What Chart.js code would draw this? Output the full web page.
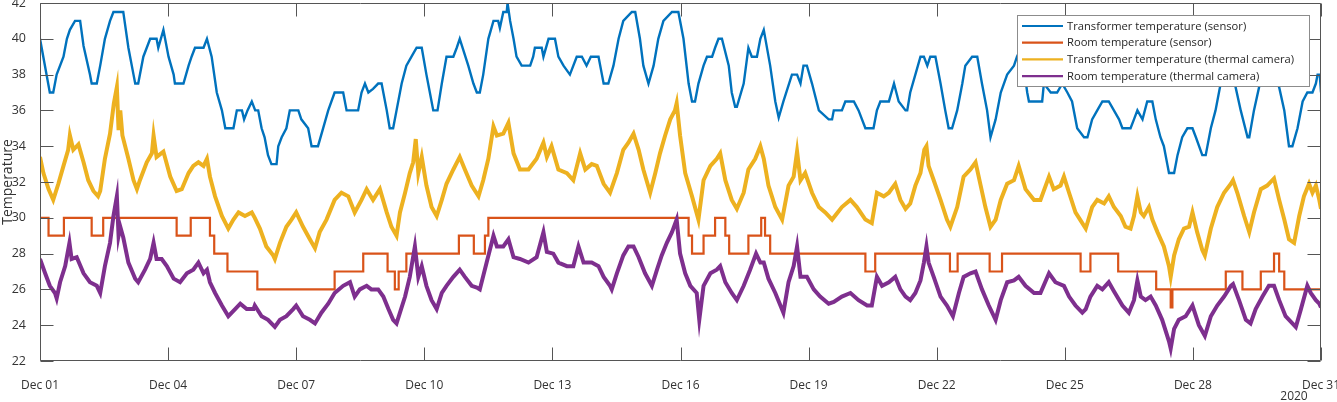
<!DOCTYPE html>
<html>
<head>
<meta charset="utf-8">
<script src="https://cdn.jsdelivr.net/npm/chart.js@4.4.1/dist/chart.umd.min.js"></script>
<style>
html,body{margin:0;padding:0;background:#ffffff;}
#wrap{width:1337px;height:402px;position:relative;}
</style>
</head>
<body>
<div id="wrap"><canvas id="c" width="1337" height="402"></canvas></div>
<script>
// ---- Data (x = days since Dec 01 2020 00:00, y = temperature) ----
const seriesLabels = [
  'Transformer temperature (sensor)',
  'Room temperature (sensor)',
  'Transformer temperature (thermal camera)',
  'Room temperature (thermal camera)'
];
const xTickLabels = ['Dec 01','Dec 04','Dec 07','Dec 10','Dec 13','Dec 16','Dec 19','Dec 22','Dec 25','Dec 28','Dec 31'];
const yearLabel = '2020';
const yAxisTitle = 'Temperature';

const transformerSensor = [
  [0,40],[0.23,37],[0.31,37],[0.39,38],[0.55,39],[0.63,40],[0.70,40.5],[0.82,41],[0.94,41],[1.02,39.6],[1.17,38],[1.21,37.5],[1.33,37.5],
  [1.41,38.5],[1.52,40],[1.64,41],[1.72,41.5],[1.95,41.5],[2.07,39.5],[2.19,38],[2.23,37.5],[2.30,37.5],[2.42,39],[2.5,39.5],[2.58,40],
  [2.73,40],[2.77,39.5],[2.89,40.5],[3.01,39],[3.13,38],[3.16,37.5],[3.36,37.5],[3.48,38.5],[3.55,39],[3.63,39.5],[3.83,39.5],[3.91,40],
  [4.02,39],[4.14,37],[4.26,36],[4.34,35],[4.53,35],[4.61,36],[4.73,36],[4.78,35.5],[4.86,36],[4.96,36.5],[5.04,36],[5.11,36],
  [5.19,35],[5.26,34.5],[5.34,33.5],[5.42,33],[5.54,33],[5.58,34],[5.66,34.5],[5.77,35],[5.85,36],[6.05,36],[6.12,35.5],[6.28,35],
  [6.36,34],[6.51,34],[6.63,35],[6.75,36],[6.9,37],[7.1,37],[7.18,36],[7.45,36],[7.53,37],[7.61,37.5],[7.69,37],[7.8,37.2],[7.92,37.5],
  [8.0,37.5],[8.12,36],[8.19,35],[8.27,35],[8.35,36],[8.47,37.5],[8.58,38.5],[8.7,39],[8.82,39.5],[8.94,39.5],[9.05,38],[9.13,37],
  [9.21,36],[9.31,36],[9.41,37.5],[9.52,39],[9.68,39],[9.76,39.5],[9.83,40],[10.03,38.5],[10.15,37.5],[10.23,37],[10.3,37],[10.38,38],
  [10.5,40],[10.62,41],[10.73,41],[10.77,40.6],[10.85,41.5],[10.93,41.5],[10.95,42],[11.01,41],[11.09,40],[11.16,39],[11.28,38.5],
  [11.48,38.5],[11.55,39],[11.59,39.5],[11.75,39.5],[11.79,39],[11.91,40],[12.06,40],[12.14,39],[12.26,38.5],[12.41,38],[12.57,39],
  [12.69,39],[12.8,38.5],[12.9,39],[13.08,39],[13.16,38],[13.2,37.5],[13.31,37.5],[13.43,38.5],[13.55,40],[13.66,41],[13.86,41.5],
  [13.94,41.5],[14.05,40],[14.13,38.5],[14.25,37.5],[14.37,38.5],[14.48,40],[14.6,41],[14.8,41.5],[14.95,41.5],[15.07,40],[15.19,37.5],
  [15.27,36.5],[15.34,36.5],[15.42,37.5],[15.54,38.5],[15.62,39],[15.74,39],[15.81,39.5],[15.89,40],[15.97,40],[16.13,38.5],[16.2,37],
  [16.28,36.2],[16.32,36.2],[16.48,37.5],[16.59,39.5],[16.67,39],[16.79,39],[16.87,40],[16.95,40.5],[17.1,38.5],[17.22,36.5],[17.3,35.6],
  [17.41,36.5],[17.61,38],[17.73,38],[17.81,37.5],[17.88,38.5],[17.96,38.5],[18.08,37.5],[18.24,36],[18.47,35.5],[18.55,35.5],[18.59,36],
  [18.78,36],[18.86,36.5],[19.06,36.5],[19.17,36],[19.33,35],[19.52,35],[19.6,36],[19.68,36.5],[19.88,36.5],[20.0,37.5],[20.11,36.5],
  [20.27,36],[20.31,36],[20.38,37],[20.5,38],[20.62,39],[20.7,39],[20.78,38.5],[20.85,39],[20.97,39],[21.09,37.5],[21.2,36],[21.28,35],
  [21.36,35],[21.48,36],[21.6,37.5],[21.67,38.5],[21.83,39],[21.95,39],[22.06,37.5],[22.18,36],[22.26,34.5],[22.38,35.5],[22.5,37],
  [22.65,38],[22.81,38.5],[22.88,39],[22.98,39.5],[23.12,37],[23.16,36.5],[23.47,36.5],[23.51,37.5],[23.67,37],[23.82,37],[23.94,37.5],
  [24.06,37],[24.17,36.5],[24.29,35],[24.45,34.5],[24.53,34.5],[24.64,35.5],[24.76,36],[24.88,36.5],[25.03,36.5],[25.15,36],[25.27,35.5],
  [25.35,35],[25.54,35],[25.62,35.5],[25.7,36],[25.82,35.5],[25.93,36.5],[26.05,36.5],[26.13,35.5],[26.24,34.5],[26.32,34],[26.4,33],
  [26.44,32.5],[26.56,32.5],[26.64,33.5],[26.75,34.5],[26.87,35],[26.99,35],[27.07,34.5],[27.22,33.5],[27.3,33.5],[27.42,35],[27.53,36],
  [27.65,37.5],[27.8,38.5],[28.0,37.3],[28.12,36],[28.28,34.5],[28.32,34.5],[28.43,36],[28.55,37.3],[28.75,38.5],[29.02,37.3],[29.14,36],
  [29.25,34],[29.33,34],[29.45,35],[29.57,36.5],[29.68,37],[29.8,37],[29.88,37.5],[29.92,38],[29.97,38],[30.0,37]
];

const roomSensor = [
  [0,30],[0.2,29],[0.56,30],[1.21,29],[1.48,30],[3.2,29],[3.53,30],[3.98,29],[4.08,28],[4.39,27],[5.09,26],[6.9,27],[7.57,28],
  [8.14,27],[8.31,26],[8.4,27],[8.58,28],[9.81,29],[10.16,28],[10.42,29],[10.5,30],[15.19,29],[15.27,28],[15.54,29],[15.81,30],
  [16.05,29],[16.14,28],[16.59,29],[16.89,30],[16.98,29],[17.1,28],[19.33,27],[19.56,28],[21.31,27],[21.49,28],[22.24,27],[22.53,28],
  [24.37,27],[24.6,28],[25.25,27],[26.14,26],[26.48,25],[26.52,26],[27.77,27],[28.16,26],[28.59,27],[28.9,28],[29.02,27],[29.14,26],[30,26]
];

const transformerCamera = [
  [0,33.4],[0.08,32.5],[0.2,31.6],[0.31,31.0],[0.43,31.9],[0.55,32.9],[0.66,33.8],[0.70,34.6],[0.78,33.8],[0.9,34.1],[1.02,33.1],
  [1.13,32.1],[1.25,31.5],[1.36,31.2],[1.41,31.5],[1.52,33.3],[1.64,34.7],[1.73,36.4],[1.8,37.3],[1.84,34.9],[1.88,36.0],[1.93,34.6],
  [2.07,33.3],[2.19,32.1],[2.27,31.6],[2.34,32.1],[2.5,33.1],[2.62,33.6],[2.66,34.6],[2.73,33.4],[2.89,33.7],[3.05,32.3],[3.2,31.5],
  [3.32,31.6],[3.48,32.5],[3.59,32.9],[3.71,33.1],[3.83,32.9],[3.91,33.3],[3.98,32.3],[4.1,31.2],[4.26,30.1],[4.41,29.4],[4.53,29.9],
  [4.65,30.3],[4.8,30.1],[4.96,30.3],[5.03,30.0],[5.15,29.4],[5.3,28.4],[5.46,27.9],[5.5,27.7],[5.62,28.6],[5.77,29.5],[5.89,29.9],
  [6.0,30.3],[6.16,29.5],[6.32,28.8],[6.44,28.3],[6.55,29.2],[6.71,29.9],[6.9,31.0],[7.06,31.4],[7.22,31.2],[7.37,30.3],[7.53,31.0],
  [7.65,31.6],[7.8,31.0],[7.96,31.6],[8.12,30.3],[8.23,29.5],[8.35,29.0],[8.43,30.3],[8.55,31.4],[8.66,32.5],[8.74,33.1],[8.8,34.4],
  [8.86,32.5],[8.94,33.4],[9.05,31.8],[9.17,30.6],[9.29,30.1],[9.41,31.0],[9.52,31.9],[9.68,32.7],[9.83,33.4],[9.95,32.7],[10.11,31.8],
  [10.27,31.2],[10.38,32.1],[10.5,33.3],[10.62,35.1],[10.7,34.6],[10.85,34.7],[10.97,35.3],[11.09,33.6],[11.24,32.7],[11.44,32.7],
  [11.63,33.3],[11.79,34.2],[11.87,33.4],[11.98,34.0],[12.14,32.7],[12.34,32.5],[12.49,32.1],[12.65,33.6],[12.77,32.7],[12.92,33.0],
  [13.04,32.9],[13.2,31.9],[13.35,31.4],[13.51,32.5],[13.66,33.8],[13.78,34.2],[13.9,34.7],[14.02,33.8],[14.13,32.7],[14.29,31.4],
  [14.41,32.5],[14.52,33.6],[14.64,34.6],[14.76,35.5],[14.87,36.0],[14.91,36.4],[14.99,34.6],[15.11,32.5],[15.27,31.2],[15.42,29.9],
  [15.54,32.1],[15.7,32.9],[15.85,33.3],[15.93,33.6],[16.05,32.1],[16.2,31.0],[16.32,30.5],[16.48,31.4],[16.59,32.7],[16.75,33.3],
  [16.87,34.0],[16.95,33.3],[17.06,31.8],[17.22,30.6],[17.38,29.9],[17.53,31.8],[17.65,32.3],[17.73,33.7],[17.81,32.1],[17.92,32.5],
  [18.08,31.4],[18.24,30.6],[18.39,30.3],[18.55,29.9],[18.78,30.6],[18.98,31.0],[19.13,30.6],[19.33,29.9],[19.48,29.7],[19.6,31.4],
  [19.76,31.2],[19.88,31.4],[20.03,31.9],[20.15,31.0],[20.27,30.5],[20.38,30.8],[20.5,31.8],[20.62,32.5],[20.71,33.8],[20.76,34.0],
  [20.81,32.9],[20.93,32.1],[21.09,31.0],[21.24,29.9],[21.32,29.5],[21.48,30.6],[21.63,32.3],[21.79,32.7],[21.91,33.1],[22.03,31.8],
  [22.14,30.6],[22.26,29.5],[22.38,29.9],[22.5,31.0],[22.65,31.9],[22.81,32.1],[22.92,32.9],[23.08,31.6],[23.28,31.0],[23.43,31.0],
  [23.63,32.3],[23.74,31.6],[23.9,31.8],[23.98,32.3],[24.1,31.4],[24.25,30.3],[24.41,29.7],[24.49,29.4],[24.64,30.6],[24.76,31.0],
  [24.92,30.8],[25.03,31.2],[25.15,30.6],[25.31,30.1],[25.42,29.5],[25.54,29.4],[25.62,30.1],[25.7,31.2],[25.78,30.3],[25.85,30.1],
  [25.97,30.6],[26.05,29.9],[26.17,29.2],[26.32,28.4],[26.44,27.3],[26.48,26.7],[26.56,27.9],[26.67,28.8],[26.79,29.4],[26.91,29.5],
  [26.99,30.3],[27.1,29.2],[27.22,28.2],[27.28,27.9],[27.42,29.4],[27.57,30.6],[27.73,31.4],[27.89,31.9],[27.94,32.1],[28.04,31.4],
  [28.2,30.1],[28.32,29.2],[28.43,30.3],[28.59,31.6],[28.74,31.8],[28.9,32.2],[29.02,31.0],[29.14,29.9],[29.25,28.8],[29.37,28.6],
  [29.49,30.1],[29.6,31.2],[29.72,31.9],[29.8,31.4],[29.88,31.8],[29.96,31.0],[30.0,30.5]
];

const roomCamera = [
  [0,27.7],[0.12,26.9],[0.23,26.2],[0.35,25.8],[0.39,25.5],[0.47,26.4],[0.59,27.3],[0.69,28.6],[0.74,27.7],[0.86,27.8],[1.02,26.9],
  [1.17,26.4],[1.33,26.2],[1.41,25.8],[1.52,27.3],[1.64,28.6],[1.72,30.1],[1.8,31.2],[1.84,29.0],[1.88,29.5],[1.95,28.9],[2.07,27.5],
  [2.23,26.6],[2.3,26.4],[2.46,27.1],[2.58,27.7],[2.66,28.6],[2.73,27.7],[2.85,27.7],[2.97,27.3],[3.13,26.6],[3.28,26.4],[3.44,26.9],
  [3.59,27.1],[3.71,27.5],[3.83,26.9],[3.91,27.1],[3.98,26.4],[4.1,25.8],[4.26,25.1],[4.41,24.5],[4.57,24.9],[4.69,25.2],[4.84,24.9],
  [5.0,24.9],[5.03,25.1],[5.19,24.5],[5.34,24.3],[5.5,23.9],[5.62,24.3],[5.77,24.5],[5.93,24.9],[6.0,25.1],[6.16,24.5],[6.32,24.3],
  [6.44,24.1],[6.59,24.7],[6.75,25.2],[6.9,25.8],[7.1,26.2],[7.26,26.4],[7.37,25.6],[7.49,26.0],[7.65,26.2],[7.76,26.0],[7.92,26.0],
  [8.04,25.6],[8.16,24.9],[8.27,24.3],[8.35,24.1],[8.43,24.7],[8.55,25.6],[8.66,26.7],[8.78,28.4],[8.86,26.7],[8.94,27.3],[9.05,26.2],
  [9.17,25.4],[9.29,24.9],[9.41,25.8],[9.52,26.2],[9.68,26.7],[9.83,27.1],[9.95,26.7],[10.11,26.2],[10.23,26.1],[10.3,26.0],[10.46,27.5],
  [10.62,29.0],[10.7,28.4],[10.85,28.4],[10.97,28.8],[11.09,27.8],[11.24,27.7],[11.44,27.5],[11.63,27.8],[11.79,29.2],[11.87,28.1],
  [12.02,28.0],[12.14,27.5],[12.34,27.3],[12.49,27.3],[12.61,28.4],[12.73,27.5],[12.92,27.5],[13.08,27.3],[13.2,26.7],[13.35,26.2],
  [13.39,26.0],[13.51,26.9],[13.66,27.9],[13.78,28.4],[13.9,28.4],[14.02,27.8],[14.17,26.9],[14.33,26.2],[14.45,27.1],[14.56,27.9],
  [14.68,28.6],[14.8,29.2],[14.91,29.9],[14.99,28.0],[15.11,26.9],[15.23,26.2],[15.38,25.8],[15.44,24.3],[15.54,26.2],[15.7,26.9],
  [15.85,27.1],[15.93,27.3],[16.05,26.4],[16.2,25.8],[16.32,25.4],[16.48,26.2],[16.63,27.1],[16.77,28.0],[16.87,27.5],[16.95,27.5],
  [17.06,26.6],[17.22,25.8],[17.41,24.7],[17.53,26.4],[17.65,27.3],[17.73,28.4],[17.81,26.7],[17.96,26.7],[18.12,26.0],[18.27,25.6],
  [18.47,25.2],[18.59,25.3],[18.78,25.6],[18.98,25.8],[19.17,25.4],[19.37,25.1],[19.48,25.1],[19.6,26.7],[19.72,26.2],[19.88,26.4],
  [20.03,26.7],[20.15,26.0],[20.27,25.6],[20.38,25.4],[20.5,25.8],[20.62,26.5],[20.7,27.5],[20.76,28.4],[20.81,27.5],[20.93,26.7],
  [21.09,25.6],[21.24,25.1],[21.38,24.5],[21.52,25.8],[21.63,26.7],[21.79,26.9],[21.91,27.0],[22.06,26.0],[22.22,25.1],[22.38,24.3],
  [22.5,25.4],[22.65,26.4],[22.81,26.5],[22.92,26.7],[23.08,26.2],[23.28,25.8],[23.43,25.8],[23.63,26.9],[23.78,26.4],[23.98,26.2],
  [24.1,25.6],[24.25,25.1],[24.41,24.7],[24.49,24.9],[24.6,25.6],[24.76,26.2],[24.88,26.0],[25.03,26.4],[25.15,25.9],[25.35,25.1],
  [25.5,24.7],[25.62,25.4],[25.7,26.5],[25.78,25.6],[25.89,25.4],[26.01,25.6],[26.13,25.1],[26.28,24.3],[26.44,23.1],[26.48,22.7],
  [26.56,23.8],[26.67,24.3],[26.83,24.5],[26.99,25.1],[27.14,24.0],[27.28,23.4],[27.42,24.5],[27.57,25.1],[27.73,25.6],[27.89,26.2],
  [27.94,26.3],[28.08,25.4],[28.24,24.3],[28.35,24.1],[28.47,24.9],[28.63,25.6],[28.78,26.2],[28.9,26.2],[29.02,25.4],[29.17,24.5],
  [29.33,24.1],[29.41,23.9],[29.53,24.9],[29.68,26.2],[29.76,25.8],[29.88,25.4],[29.96,25.2],[30.0,25.0]
];

// ---- Styling ----
const FONT = "'Open Sans', 'Noto Sans', sans-serif";
const seriesColors = ['#0072BD', '#D95319', '#EDB120', '#7E2F8E'];
const axisColor = '#555555';
const textColor = '#333333';

const toPoints = arr => arr.map(p => ({x: p[0], y: p[1]}));

// Inward ticks on all four sides, box, year label, legend
const boxTicksPlugin = {
  id: 'boxTicks',
  afterDraw(chart) {
    const ctx = chart.ctx;
    const ca = chart.chartArea;
    const xs = chart.scales.x, ys = chart.scales.y;
    const len = 13;
    ctx.save();
    ctx.strokeStyle = axisColor;
    ctx.lineWidth = 1;
    ctx.beginPath();
    const T = Math.round(ca.top) + 0.5, B = Math.round(ca.bottom) - 0.5;
    const L = Math.round(ca.left) + 0.5, R = Math.round(ca.right) - 0.5;
    ctx.moveTo(L, T); ctx.lineTo(R, T); ctx.lineTo(R, B); ctx.lineTo(L, B); ctx.closePath();
    for (let i = 0; i < xTickLabels.length; i++) {
      const px = Math.round(xs.getPixelForValue(i * 3)) + 0.5;
      ctx.moveTo(px, B); ctx.lineTo(px, B - len);
      ctx.moveTo(px, T); ctx.lineTo(px, T + len);
    }
    for (let v = ys.min; v <= ys.max; v += 2) {
      const py = Math.round(ys.getPixelForValue(v)) + 0.5;
      ctx.moveTo(L, py); ctx.lineTo(L + len, py);
      ctx.moveTo(R, py); ctx.lineTo(R - len, py);
    }
    ctx.stroke();

    // year label under last date tick
    ctx.fillStyle = textColor;
    ctx.font = '12px ' + FONT;
    ctx.textAlign = 'center';
    ctx.textBaseline = 'alphabetic';
    ctx.fillText(yearLabel, ca.right - 27, 400);

    // legend box (inside plot, top-right)
    const right = Math.round(ca.right) - 11, width = 293, height = 72;
    const left = right - width, top = Math.round(ca.top) + 12;
    ctx.fillStyle = '#ffffff';
    ctx.fillRect(left, top, width, height);
    ctx.strokeStyle = '#8c8c8c';
    ctx.lineWidth = 1;
    ctx.strokeRect(left + 0.5, top + 0.5, width - 1, height - 1);
    ctx.font = '11.2px ' + FONT;
    ctx.textAlign = 'left';
    ctx.textBaseline = 'middle';
    chart.data.datasets.forEach((ds, i) => {
      const y = top + 11 + i * 16.7;
      ctx.strokeStyle = ds.borderColor;
      ctx.lineWidth = 2.2;
      ctx.beginPath();
      ctx.moveTo(left + 5, y);
      ctx.lineTo(left + 46, y);
      ctx.stroke();
      ctx.fillStyle = '#262626';
      ctx.fillText(ds.label, left + 50, y + 0.5);
    });
    ctx.restore();
  }
};

const datasets = [
  {label: seriesLabels[0], data: toPoints(transformerSensor), borderColor: seriesColors[0], borderWidth: 2.4, order: 3},
  {label: seriesLabels[1], data: toPoints(roomSensor), borderColor: seriesColors[1], borderWidth: 2.2, stepped: 'before', order: 2},
  {label: seriesLabels[2], data: toPoints(transformerCamera), borderColor: seriesColors[2], borderWidth: 4, order: 1},
  {label: seriesLabels[3], data: toPoints(roomCamera), borderColor: seriesColors[3], borderWidth: 4, order: 0}
].map(d => Object.assign({pointRadius: 0, pointHoverRadius: 0, tension: 0, fill: false, backgroundColor: d.borderColor, borderJoinStyle: 'miter'}, d));

new Chart(document.getElementById('c'), {
  type: 'line',
  data: {datasets},
  options: {
    responsive: false,
    animation: false,
    devicePixelRatio: 1,
    layout: {padding: {top: 3, right: 16, bottom: 0, left: 0}},
    plugins: {legend: {display: false}, tooltip: {enabled: false}, title: {display: false}},
    events: [],
    scales: {
      x: {
        type: 'linear', min: 0, max: 30,
        grid: {display: false},
        border: {display: false},
        ticks: {
          stepSize: 3, autoSkip: false, maxRotation: 0, minRotation: 0,
          color: textColor, font: {family: FONT, size: 12}, padding: 9,
          callback: v => xTickLabels[Math.round(v / 3)]
        },
        afterFit: s => { s.height = 41; s.paddingLeft = 0; s.paddingRight = 0; }
      },
      y: {
        type: 'linear', min: 22, max: 42,
        grid: {display: false},
        border: {display: false},
        ticks: {stepSize: 2, color: textColor, font: {family: FONT, size: 12.5}, padding: 6},
        title: {display: true, text: yAxisTitle, color: textColor, font: {family: FONT, size: 14}, padding: {top: 0, bottom: 0}},
        afterFit: s => { s.width = 40; s.paddingTop = 0; s.paddingBottom = 0; }
      }
    }
  },
  plugins: [boxTicksPlugin]
});
</script>
</body>
</html>
